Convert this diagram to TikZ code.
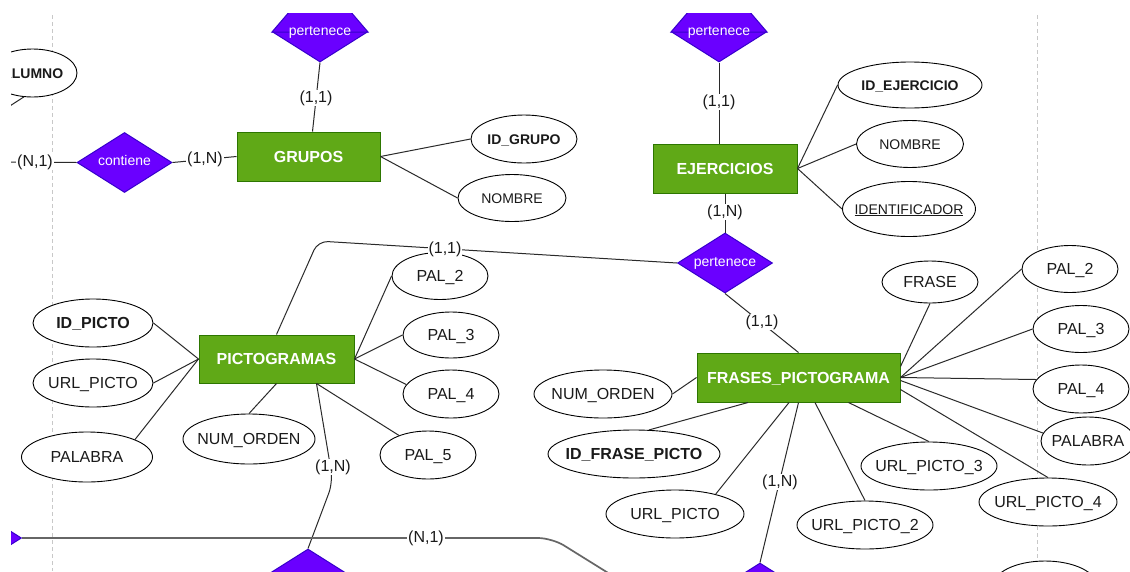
\documentclass[tikz,border=0pt]{standalone}
\usepackage{fontspec}
\setmainfont{Liberation Sans}
\usetikzlibrary{shapes.geometric,calc}
\definecolor{entfill}{HTML}{60A917}
\definecolor{entdraw}{HTML}{2D7600}
\definecolor{relfill}{HTML}{6A00FF}
\definecolor{reldraw}{HTML}{3700CC}
\definecolor{linec}{HTML}{2A2A2A}
\definecolor{txt}{HTML}{1A1A1A}
\definecolor{sepc}{HTML}{C8C8C8}
\newcommand{\mbx}[1]{\makebox[0pt][c]{#1}}
\begin{document}
\begin{tikzpicture}[x=1pt,y=-1pt,
 entity/.style={rectangle,draw=entdraw,fill=entfill,line width=1pt,inner sep=0pt,text=white,
   font=\fontsize{16}{18}\selectfont\bfseries,text height=11.5pt,text depth=0pt},
 rel/.style={diamond,draw=reldraw,fill=relfill,line width=1pt,inner sep=0pt,minimum width=95pt,
   minimum height=60pt,text=white,font=\fontsize{14}{16}\selectfont,text height=6.5pt,text depth=0pt},
 reltop/.style={fill=relfill,draw=reldraw,line width=1pt},
 attr/.style={ellipse,draw=black,fill=white,line width=0.9pt,inner sep=0pt,text=txt,
   font=\fontsize{16}{18}\selectfont,text height=11.5pt,text depth=0pt},
 smallattr/.style={attr,font=\fontsize{14}{16}\selectfont,text height=10pt},
 conn/.style={draw=linec,line width=1pt},
 hconn/.style={draw=black!60,line width=1.7pt},
 card/.style={fill=white,inner sep=1pt,text=txt,font=\fontsize{16}{18}\selectfont},
 sepline/.style={draw=sepc,line width=1pt,dash pattern=on 4pt off 3pt}]
\fill[white] (0,0) rectangle (1130,571);
\useasboundingbox (0,0) rectangle (1130,571);
\begin{scope}
\clip (11,13) rectangle (1130,571);
\draw[sepline] (52,15) -- (52,571);
\draw[sepline] (1037,15) -- (1037,571);

% entities
\node[entity,minimum width=143,minimum height=49] (gru) at (308.5,156.5) {\mbx{GRUPOS}};
\node[entity,minimum width=144,minimum height=49] (eje) at (725,168.5) {\mbx{EJERCICIOS}};
\node[entity,minimum width=155,minimum height=48] (pic) at (276.5,359) {\mbx{PICTOGRAMAS}};
\node[entity,minimum width=203,minimum height=49] (fra) at (798.5,377.5) {\mbx{FRASES\_PICTOGRAMA}};

% relationships
\node[rel] (pg) at (320,32) {};
\node[rel] (pe) at (719,32) {};
\fill[reltop] (pg.west) -- ($(pg.west)+(18,-21)$) -- ($(pg.east)+(-18,-21)$) -- (pg.east) -- cycle;
\fill[reltop] (pe.west) -- ($(pe.west)+(18,-21)$) -- ($(pe.east)+(-18,-21)$) -- (pe.east) -- cycle;
\node[text=white,font=\fontsize{14}{16}\selectfont,text height=6.5pt,text depth=0pt,inner sep=0pt] (pgt) at (pg.center) {pertenece};
\node[text=white,font=\fontsize{14}{16}\selectfont,text height=6.5pt,text depth=0pt,inner sep=0pt] (pet) at (pe.center) {pertenece};
\node[rel] (cont) at (124.5,162.5) {\mbx{contiene}};
\node[rel] (pm) at (725,263) {\mbx{pertenece}};
\node[rel] (bda) at (308,579) {};
\node[rel] (bdb) at (760,593) {};
\node[rel] (bdl) at (-26,538) {};

% attributes
\node[smallattr,minimum width=89,minimum height=48] (alu) at (32.5,73) {\mbx{\bfseries ALUMNO}};
\node[smallattr,minimum width=106,minimum height=48] (idg) at (524,139) {\mbx{\bfseries ID\_GRUPO}};
\node[smallattr,minimum width=108,minimum height=47] (gno) at (512,198) {\mbx{NOMBRE}};
\node[smallattr,minimum width=144,minimum height=46] (ide) at (910,85) {\mbx{\bfseries ID\_EJERCICIO}};
\node[smallattr,minimum width=107,minimum height=47] (eno) at (910,144) {\mbx{NOMBRE}};
\node[smallattr,minimum width=133,minimum height=55] (idf) at (909,209) {\mbx{\underline{IDENTIFICADOR}}};
\node[attr,minimum width=120,minimum height=48] (idp) at (93,323) {\mbx{\bfseries ID\_PICTO}};
\node[attr,minimum width=120,minimum height=48] (urp) at (93,383) {\mbx{URL\_PICTO}};
\node[attr,minimum width=131,minimum height=50] (pal) at (87,457) {\mbx{PALABRA}};
\node[attr,minimum width=132,minimum height=50] (nuo) at (249,439) {\mbx{NUM\_ORDEN}};
\node[attr,minimum width=96,minimum height=48] (pa5) at (428,455) {\mbx{PAL\_5}};
\node[attr,minimum width=96,minimum height=48] (pa4) at (451,394) {\mbx{PAL\_4}};
\node[attr,minimum width=96,minimum height=46] (pa3) at (451,335) {\mbx{PAL\_3}};
\node[attr,minimum width=96,minimum height=47] (pa2) at (440,276) {\mbx{PAL\_2}};
\node[attr,minimum width=96,minimum height=42] (fse) at (930,282) {\mbx{FRASE}};
\node[attr,minimum width=96,minimum height=47] (qa2) at (1070,269) {\mbx{PAL\_2}};
\node[attr,minimum width=96,minimum height=47] (qa3) at (1081,329) {\mbx{PAL\_3}};
\node[attr,minimum width=96,minimum height=48] (qa4) at (1081,389) {\mbx{PAL\_4}};
\node[attr,minimum width=94,minimum height=48] (qal) at (1088,441) {\mbx{PALABRA}};
\node[attr,minimum width=138,minimum height=48] (uq4) at (1048,502) {\mbx{URL\_PICTO\_4}};
\node[attr,minimum width=136,minimum height=48] (uq3) at (929,466) {\mbx{URL\_PICTO\_3}};
\node[attr,minimum width=136,minimum height=48] (uq2) at (865,525) {\mbx{URL\_PICTO\_2}};
\node[attr,minimum width=138,minimum height=48] (uq1) at (675,514) {\mbx{URL\_PICTO}};
\node[attr,minimum width=172,minimum height=48] (idfp) at (634,454) {\mbx{\bfseries ID\_FRASE\_PICTO}};
\node[attr,minimum width=138,minimum height=48] (nuf) at (603,394) {\mbx{NUM\_ORDEN}};
\node[attr,minimum width=104,minimum height=50] (ebr) at (1045,586) {};

% helper coordinates
\coordinate (lft) at (0,162);
\coordinate (alx) at (-15,122);
\coordinate (kink) at (318,241);
\coordinate (bend) at (333,482);
\coordinate (hc) at (552,538);
\coordinate (hend) at (650,599);

% connectors
\draw[conn] (pg.south) -- ($(gru.north)+(4,0)$);
\draw[conn] (cont.east) -- (gru.west);
\draw[conn] (cont.west) -- (lft);
\draw[conn] (alu.250) -- (alx);
\draw[conn] (gru.east) -- (idg.west);
\draw[conn] (gru.east) -- (gno.west);
\draw[conn] (pe.south) -- ($(eje.north)+(-6,0)$);
\draw[conn] (eje.south) -- (pm.north);
\draw[conn] (eje.east) -- (ide.west);
\draw[conn] (eje.east) -- (eno.west);
\draw[conn] (eje.east) -- (idf.west);
\draw[conn,rounded corners=10] (pic.north) -- (kink) -- (pm.west);
\draw[conn] (pic.west) -- (idp.east);
\draw[conn] (pic.west) -- (urp.east);
\draw[conn] (pic.west) -- (pal.20);
\draw[conn] (pic.south) -- (nuo.north);
\draw[conn] ($(pic.south)+(40,0)$) -- (pa5.146);
\draw[conn,rounded corners=12] ($(pic.south)+(40,0)$) -- (bend) -- (bda.north);
\draw[conn] (pic.east) -- (pa2.west);
\draw[conn] (pic.east) -- (pa3.west);
\draw[conn] (pic.east) -- (pa4.168);
\draw[conn] (pm.south) -- (fra.north);
\draw[conn] ($(fra.east)+(0,-11)$) -- (fse.south);
\draw[conn] (fra.east) -- (qa2.west);
\draw[conn] (fra.east) -- (qa3.west);
\draw[conn] (fra.east) -- (qa4.168);
\draw[conn] ($(fra.east)+(0,3)$) -- (qal.170);
\draw[conn] ($(fra.east)+(0,12)$) -- (uq4.north);
\draw[conn] ($(fra.south)+(50,0)$) -- (uq3.north);
\draw[conn] ($(fra.south)+(16.5,0)$) -- (uq2.north);
\draw[conn] (fra.south) -- (bdb.north);
\draw[conn] ($(fra.south)+(-9.5,0)$) -- (uq1.26);
\draw[conn] ($(fra.south)+(-50.5,0)$) -- (idfp.58);
\draw[conn] (fra.west) -- (nuf.east);
\draw[hconn,rounded corners=14] (bdl.east) -- (hc) -- (hend);

% cardinalities
\node[card] (c1) at (316,98) {(1,1)};
\node[card] (c2) at (205,159) {(1,N)};
\node[card] (c3) at (35,162) {(N,1)};
\node[card] (c4) at (719,102) {(1,1)};
\node[card] (c5) at (725,212) {(1,N)};
\node[card] (c6) at (445,249) {(1,1)};
\node[card] (c7) at (762,322) {(1,1)};
\node[card] (c8) at (333,467) {(1,N)};
\node[card] (c9) at (780,482) {(1,N)};
\node[card] (c10) at (426,538) {(N,1)};
\end{scope}
\end{tikzpicture}
\end{document}
